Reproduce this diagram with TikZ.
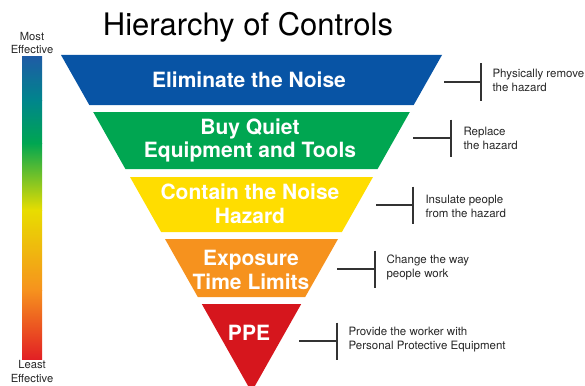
\documentclass[tikz,border=0pt]{standalone}
\usepackage{fontspec}
\setmainfont{TeX Gyre Heros}
\usepackage{tikz}
\definecolor{ctlblue}{RGB}{8,84,165}
\definecolor{ctlgreen}{RGB}{0,166,81}
\definecolor{ctlyellow}{RGB}{255,221,0}
\definecolor{ctlorange}{RGB}{246,146,30}
\definecolor{ctlred}{RGB}{214,22,29}
\definecolor{barteal}{RGB}{0,133,140}
\definecolor{bartop}{RGB}{30,92,165}
\definecolor{baryellow}{RGB}{232,221,0}
\definecolor{barred}{RGB}{226,32,36}
\tikzset{
  band/.style={text=white, align=center, font=\bfseries\fontsize{21}{23.5}\selectfont},
  note/.style={anchor=west, align=left, text=black!85, font=\fontsize{11.5}{14}\selectfont},
  barlabel/.style={align=center, text=black!85, font=\fontsize{11.2}{13.5}\selectfont},
  brace/.style={line width=1.2pt, black!80}
}

\begin{document}
\begin{tikzpicture}[x=1pt,y=-1pt]
  \useasboundingbox (0,0) rectangle (585,385);
  \fill [ctlblue] (61,55) -- (442,55) -- (413.7,105) -- (89.3,105) -- cycle;
  \fill [ctlgreen] (93.2,112) -- (409.8,112) -- (377.6,169) -- (125.4,169) -- cycle;
  \fill [ctlyellow] (130,177) -- (373,177) -- (341.9,232) -- (161.1,232) -- cycle;
  \fill [ctlorange] (165,239) -- (338,239) -- (305.2,297) -- (197.8,297) -- cycle;
  \fill [ctlred] (201.8,304) -- (301.2,304) -- (251.5,392) -- cycle;
  \shade [top color=bartop, bottom color=barteal] (22,57) rectangle (42,100.5);
  \shade [top color=barteal, bottom color=ctlgreen] (22,100) rectangle (42,143.5);
  \shade [top color=ctlgreen, bottom color=baryellow] (22,143) rectangle (42,210.5);
  \shade [top color=baryellow, bottom color=ctlorange] (22,210) rectangle (42,290.5);
  \shade [top color=ctlorange, bottom color=barred] (22,290) rectangle (42,359);
  \node (MA) [barlabel] at (32,43) {Most\\Effective};
  \node (ME) [barlabel] at (32,371.5) {Least\\Effective};
  \node (T) at (248,27) {\fontsize{31}{31}\selectfont Hierarchy of Controls};
  \node (LA) [band] at (249,80) {Eliminate the Noise};
  \node (LB) [band] at (250,140.5) {Buy Quiet\\Equipment and Tools};
  \node (LC) [band] at (250,204) {Contain the Noise\\Hazard};
  \node (LD) [band] at (251,270) {Exposure\\Time Limits};
  \node (LE) [band] at (249,333) {PPE};
  \coordinate (HA) at (444,82);
  \coordinate (VA) at (481,82);
  \coordinate (HB) at (413,138);
  \coordinate (VB) at (451,138);
  \coordinate (HC) at (376,205);
  \coordinate (VC) at (413,205);
  \coordinate (HD) at (337,269);
  \coordinate (VD) at (375,269);
  \coordinate (HE) at (299,341);
  \coordinate (VE) at (337,341);
  \node (NA) [note] at (489,80) {Physically remove\\the hazard};
  \node (NB) [note] at (460,138) {Replace\\the hazard};
  \node (NC) [note] at (422,206.5) {Insulate people\\from the hazard};
  \node (ND) [note] at (383,267) {Change the way\\people work};
  \node (NE) [note] at (345,340) {Provide the worker with\\Personal Protective Equipment};
  \draw [brace] (HA) -- (VA);
  \draw [brace] (VA) ++(0,-18.5) -- ++(0,37);
  \draw [brace] (HB) -- (VB);
  \draw [brace] (VB) ++(0,-18.5) -- ++(0,37);
  \draw [brace] (HC) -- (VC);
  \draw [brace] (VC) ++(0,-18.5) -- ++(0,37);
  \draw [brace] (HD) -- (VD);
  \draw [brace] (VD) ++(0,-18.5) -- ++(0,37);
  \draw [brace] (HE) -- (VE);
  \draw [brace] (VE) ++(0,-18.5) -- ++(0,37);
\end{tikzpicture}
\end{document}
